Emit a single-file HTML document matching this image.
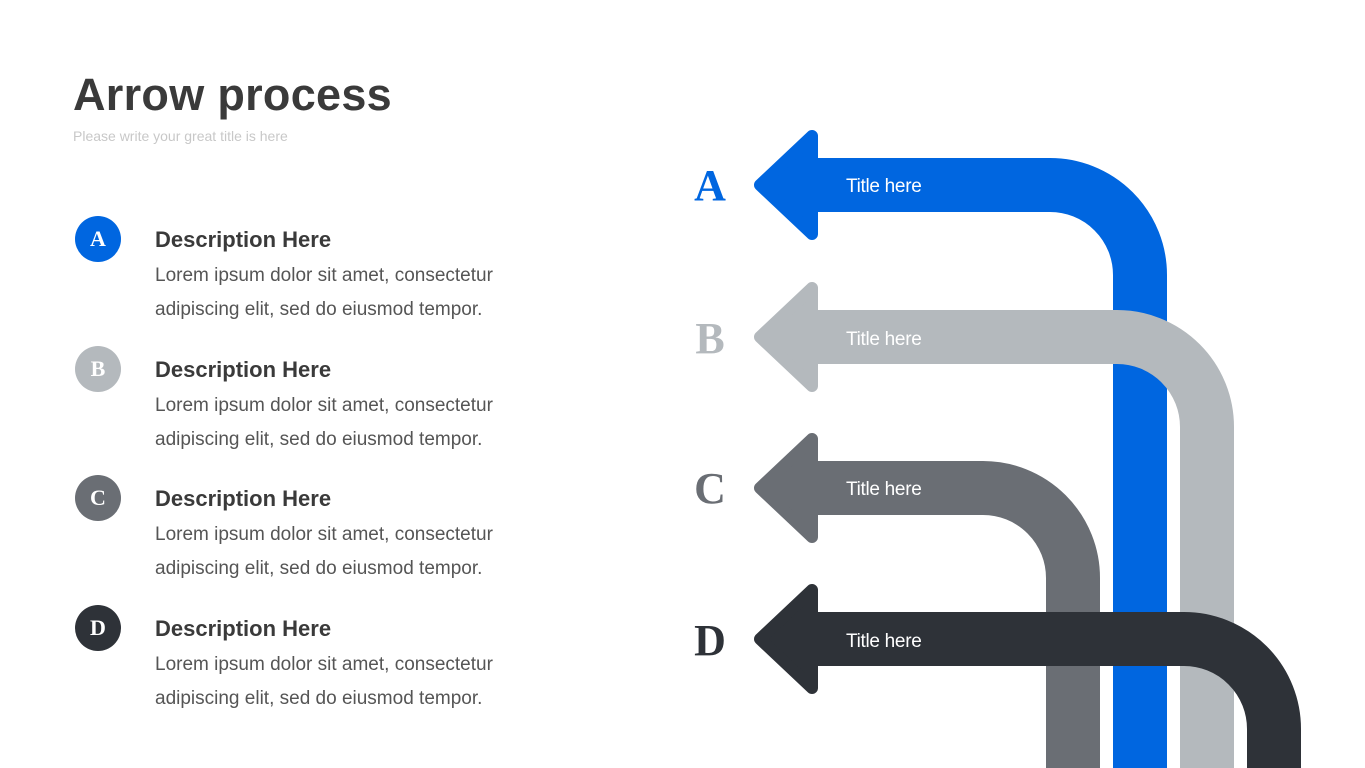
<!DOCTYPE html>
<html><head><style>
body{margin:0;width:1365px;height:768px;overflow:hidden;background:#fff;font-family:"Liberation Sans",sans-serif;position:relative}
.t{position:absolute;left:73px;top:69px;font-size:45px;font-weight:bold;color:#3a3a3a;letter-spacing:0.3px}
.s{position:absolute;left:73px;top:128px;font-size:14px;color:#c8c8c8}
.c{position:absolute;left:75px;width:46px;height:46px;border-radius:50%;color:#fff;font-family:"Liberation Serif",serif;font-weight:bold;font-size:22px;text-align:center;line-height:46px}
.h{position:absolute;left:155px;font-size:22px;font-weight:bold;color:#3a3a3a}
.b{position:absolute;left:155px;font-size:19px;color:#555;line-height:34px;letter-spacing:0}
</style></head><body>
<div class="t">Arrow process</div>
<div class="s">Please write your great title is here</div>

<div class="c" style="top:216px;background:#0066e0">A</div>
<div class="h" style="top:227px">Description Here</div>
<div class="b" style="top:259px">Lorem ipsum dolor sit amet, consectetur<br>adipiscing elit, sed do eiusmod tempor.</div>

<div class="c" style="top:346px;background:#b4b9bd">B</div>
<div class="h" style="top:357px">Description Here</div>
<div class="b" style="top:389px">Lorem ipsum dolor sit amet, consectetur<br>adipiscing elit, sed do eiusmod tempor.</div>

<div class="c" style="top:475px;background:#6a6e74">C</div>
<div class="h" style="top:486px">Description Here</div>
<div class="b" style="top:518px">Lorem ipsum dolor sit amet, consectetur<br>adipiscing elit, sed do eiusmod tempor.</div>

<div class="c" style="top:605px;background:#2e3238">D</div>
<div class="h" style="top:616px">Description Here</div>
<div class="b" style="top:648px">Lorem ipsum dolor sit amet, consectetur<br>adipiscing elit, sed do eiusmod tempor.</div>

<svg width="1365" height="768" style="position:absolute;left:0;top:0">
<g font-family="Liberation Serif,serif" font-weight="bold" font-size="44" text-anchor="middle">
<text x="710" y="200" fill="#0066e0">A</text>
<text x="710" y="353" fill="#b4b9bd">B</text>
<text x="710" y="503" fill="#6a6e74">C</text>
<text x="710" y="655" fill="#2e3238">D</text>
</g>
<g fill="none" stroke-width="54">
<path d="M800 185 H1050 A90 90 0 0 1 1140 275 V780" stroke="#0066e0"/>
<polygon points="760,185 812,136 812,234" fill="#0066e0" stroke="#0066e0" stroke-width="12" stroke-linejoin="round"/>
<path d="M800 337 H1117 A90 90 0 0 1 1207 427 V780" stroke="#b4b9bd"/>
<polygon points="760,337 812,288 812,386" fill="#b4b9bd" stroke="#b4b9bd" stroke-width="12" stroke-linejoin="round"/>
<path d="M800 488 H983 A90 90 0 0 1 1073 578 V780" stroke="#6a6e74"/>
<polygon points="760,488 812,439 812,537" fill="#6a6e74" stroke="#6a6e74" stroke-width="12" stroke-linejoin="round"/>
<path d="M800 639 H1184 A90 90 0 0 1 1274 729 V780" stroke="#2e3238"/>
<polygon points="760,639 812,590 812,688" fill="#2e3238" stroke="#2e3238" stroke-width="12" stroke-linejoin="round"/>
</g>
<g font-family="Liberation Sans,sans-serif" font-size="19" fill="#fff" letter-spacing="-0.3">
<text x="846" y="192">Title here</text>
<text x="846" y="345">Title here</text>
<text x="846" y="495">Title here</text>
<text x="846" y="647">Title here</text>
</g>
</svg>
</body></html>
